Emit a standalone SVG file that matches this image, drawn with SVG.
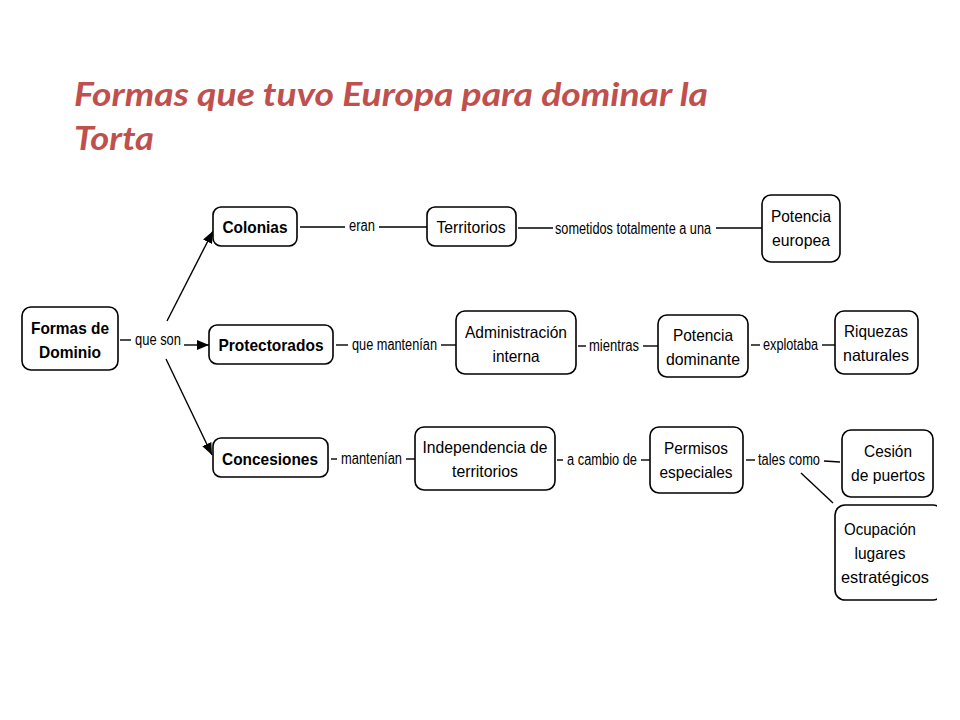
<svg xmlns="http://www.w3.org/2000/svg" width="960" height="720" viewBox="0 0 960 720">
<style>
.box{fill:#fff;stroke:#000;stroke-width:1.6}
.nt{font-family:"Liberation Sans",Arial,sans-serif;font-size:16.5px;fill:#000;text-anchor:middle}
.b{font-weight:bold}
.lb{font-family:"Liberation Sans",Arial,sans-serif;font-size:16px;fill:#000}
.ln{stroke:#000;stroke-width:1.4;fill:none}
.title{font-family:Lato,"Open Sans",sans-serif;font-weight:bold;font-style:italic;font-size:33px;fill:#C0504D}
</style>
<defs>
<marker id="ah" viewBox="0 0 12 10" refX="12" refY="5" markerWidth="12" markerHeight="10" markerUnits="userSpaceOnUse" orient="auto">
<path d="M0,0 L12,5 L0,10 Z" fill="#000"/>
</marker>
<clipPath id="cut"><rect x="0" y="0" width="937" height="720"/></clipPath>
</defs>
<rect width="960" height="720" fill="#fff"/>
<g id="title">
<text class="title" x="74" y="106" textLength="634" lengthAdjust="spacingAndGlyphs">Formas que tuvo Europa para dominar la</text>
<text class="title" x="74" y="150" textLength="80" lengthAdjust="spacingAndGlyphs">Torta</text>
</g>
<g id="connectors">
<line class="ln" x1="120" y1="340" x2="131" y2="340"/>
<text class="lb" x="135" y="345" textLength="46" lengthAdjust="spacingAndGlyphs">que son</text>
<line class="ln" x1="167" y1="321" x2="213" y2="231" marker-end="url(#ah)"/>
<line class="ln" x1="184" y1="345" x2="209" y2="345" marker-end="url(#ah)"/>
<line class="ln" x1="166" y1="359" x2="212" y2="455" marker-end="url(#ah)"/>
<line class="ln" x1="300" y1="227" x2="345" y2="227"/>
<text class="lb" x="349" y="231" textLength="26" lengthAdjust="spacingAndGlyphs">eran</text>
<line class="ln" x1="379" y1="227" x2="427" y2="227"/>
<line class="ln" x1="518" y1="228" x2="553" y2="228"/>
<text class="lb" x="555" y="234" textLength="156" lengthAdjust="spacingAndGlyphs">sometidos totalmente a una</text>
<line class="ln" x1="716" y1="228" x2="762" y2="228"/>
<line class="ln" x1="336" y1="345" x2="348" y2="345"/>
<text class="lb" x="352" y="350" textLength="85" lengthAdjust="spacingAndGlyphs">que mantenían</text>
<line class="ln" x1="441" y1="345" x2="456" y2="345"/>
<line class="ln" x1="578" y1="346" x2="586" y2="346"/>
<text class="lb" x="589" y="351" textLength="50" lengthAdjust="spacingAndGlyphs">mientras</text>
<line class="ln" x1="643" y1="346" x2="658" y2="346"/>
<line class="ln" x1="751" y1="345" x2="760" y2="345"/>
<text class="lb" x="763" y="350" textLength="55" lengthAdjust="spacingAndGlyphs">explotaba</text>
<line class="ln" x1="822" y1="345" x2="835" y2="345"/>
<line class="ln" x1="331" y1="459" x2="337" y2="459"/>
<text class="lb" x="341" y="464" textLength="61" lengthAdjust="spacingAndGlyphs">mantenían</text>
<line class="ln" x1="406" y1="459" x2="415" y2="459"/>
<line class="ln" x1="557" y1="460" x2="563" y2="460"/>
<text class="lb" x="567" y="465" textLength="70" lengthAdjust="spacingAndGlyphs">a cambio de</text>
<line class="ln" x1="641" y1="460" x2="650" y2="460"/>
<line class="ln" x1="746" y1="460" x2="755" y2="460"/>
<text class="lb" x="758" y="465" textLength="62" lengthAdjust="spacingAndGlyphs">tales como</text>
<line class="ln" x1="824" y1="461" x2="840" y2="462"/>
<line class="ln" x1="801" y1="473" x2="833" y2="503"/>
</g>
<g id="formas">
<rect class="box" x="22" y="307" width="96" height="63" rx="9"/>
<text class="nt b" x="70" y="334" textLength="78" lengthAdjust="spacingAndGlyphs">Formas de</text>
<text class="nt b" x="70" y="358" textLength="62" lengthAdjust="spacingAndGlyphs">Dominio</text>
</g>
<g id="colonias">
<rect class="box" x="213" y="207" width="84" height="39" rx="8"/>
<text class="nt b" x="255" y="233" textLength="65" lengthAdjust="spacingAndGlyphs">Colonias</text>
</g>
<g id="protectorados">
<rect class="box" x="209" y="325" width="124" height="39" rx="8"/>
<text class="nt b" x="271" y="351" textLength="105" lengthAdjust="spacingAndGlyphs">Protectorados</text>
</g>
<g id="concesiones">
<rect class="box" x="213" y="438" width="115" height="39" rx="8"/>
<text class="nt b" x="270" y="465" textLength="96" lengthAdjust="spacingAndGlyphs">Concesiones</text>
</g>
<g id="territorios">
<rect class="box" x="427" y="207" width="89" height="39" rx="8"/>
<text class="nt" x="471" y="233" textLength="69" lengthAdjust="spacingAndGlyphs">Territorios</text>
</g>
<g id="potencia-europea">
<rect class="box" x="762" y="195" width="78" height="67" rx="9"/>
<text class="nt" x="801" y="222" textLength="60" lengthAdjust="spacingAndGlyphs">Potencia</text>
<text class="nt" x="801" y="246" textLength="58" lengthAdjust="spacingAndGlyphs">europea</text>
</g>
<g id="administracion">
<rect class="box" x="456" y="311" width="120" height="63" rx="9"/>
<text class="nt" x="516" y="338" textLength="102" lengthAdjust="spacingAndGlyphs">Administración</text>
<text class="nt" x="516" y="362" textLength="47" lengthAdjust="spacingAndGlyphs">interna</text>
</g>
<g id="potencia-dominante">
<rect class="box" x="658" y="315" width="90" height="62" rx="9"/>
<text class="nt" x="703" y="341" textLength="60" lengthAdjust="spacingAndGlyphs">Potencia</text>
<text class="nt" x="703" y="365" textLength="74" lengthAdjust="spacingAndGlyphs">dominante</text>
</g>
<g id="riquezas">
<rect class="box" x="835" y="311" width="83" height="63" rx="9"/>
<text class="nt" x="876" y="337" textLength="64" lengthAdjust="spacingAndGlyphs">Riquezas</text>
<text class="nt" x="876" y="361" textLength="66" lengthAdjust="spacingAndGlyphs">naturales</text>
</g>
<g id="independencia">
<rect class="box" x="415" y="427" width="140" height="63" rx="9"/>
<text class="nt" x="485" y="453" textLength="125" lengthAdjust="spacingAndGlyphs">Independencia de</text>
<text class="nt" x="485" y="477" textLength="66" lengthAdjust="spacingAndGlyphs">territorios</text>
</g>
<g id="permisos">
<rect class="box" x="650" y="427" width="93" height="66" rx="9"/>
<text class="nt" x="696" y="454" textLength="64" lengthAdjust="spacingAndGlyphs">Permisos</text>
<text class="nt" x="696" y="478" textLength="73" lengthAdjust="spacingAndGlyphs">especiales</text>
</g>
<g id="cesion">
<rect class="box" x="842" y="430" width="91" height="67" rx="9"/>
<text class="nt" x="888" y="457" textLength="48" lengthAdjust="spacingAndGlyphs">Cesión</text>
<text class="nt" x="888" y="481" textLength="74" lengthAdjust="spacingAndGlyphs">de puertos</text>
</g>
<g id="ocupacion" clip-path="url(#cut)">
<rect class="box" x="835" y="505" width="108" height="95" rx="10"/>
<text class="nt" x="880" y="535" textLength="72" lengthAdjust="spacingAndGlyphs">Ocupación</text>
<text class="nt" x="880" y="559" textLength="51" lengthAdjust="spacingAndGlyphs">lugares</text>
<text class="nt" x="885" y="583" textLength="88" lengthAdjust="spacingAndGlyphs">estratégicos</text>
</g>
</svg>
